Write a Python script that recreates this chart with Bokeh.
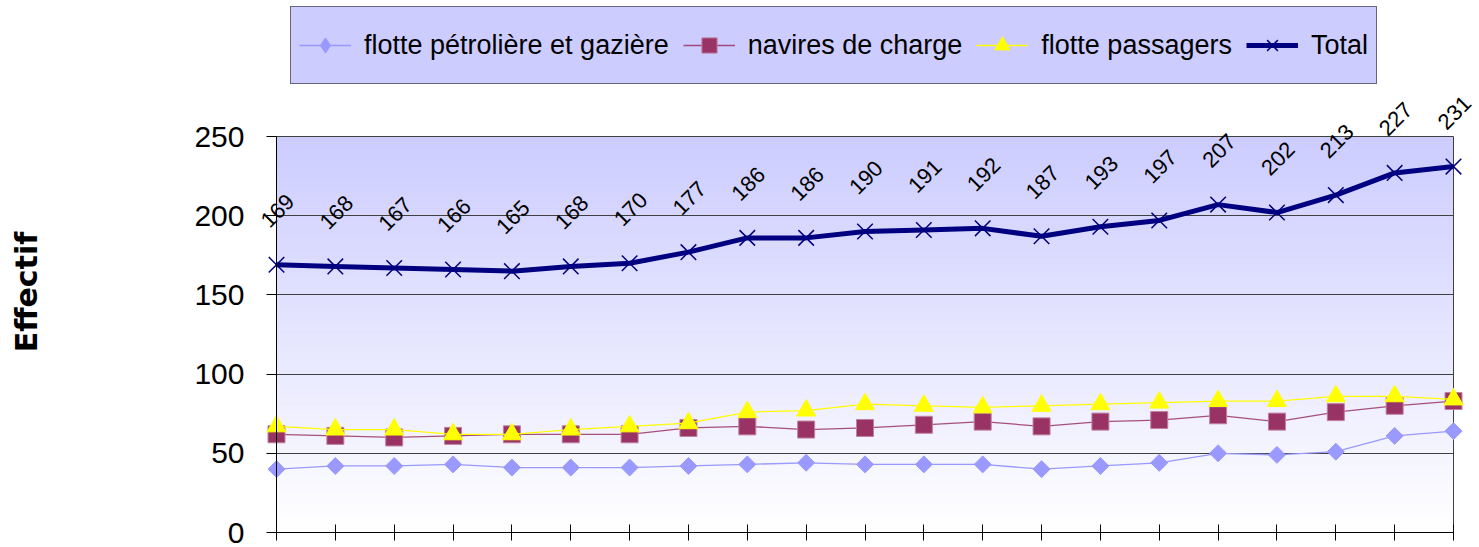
import numpy as np
from bokeh.plotting import figure
from bokeh.models import (ColumnDataSource, Legend, LegendItem, LabelSet, Label,
                          Range1d, FixedTicker, CDSView, IndexFilter)
from bokeh.core.properties import value
from bokeh.embed import file_html
from bokeh.resources import INLINE

# ---- data ----
idx = list(range(21))
petro = [40, 42, 42, 43, 41, 41, 41, 42, 43, 44, 43, 43, 43, 40, 42, 44, 50, 49, 51, 61, 64]
navires = [62, 61, 60, 61, 62, 62, 62, 66, 67, 65, 66, 68, 70, 67, 70, 71, 74, 70, 76, 80, 83]
passagers = [67, 65, 65, 62, 62, 65, 67, 69, 76, 77, 81, 80, 79, 80, 81, 82, 83, 83, 86, 86, 84]
total = [169, 168, 167, 166, 165, 168, 170, 177, 186, 186, 190, 191, 192, 187, 193, 197, 207, 202, 213, 227, 231]
y_ticks = [0, 50, 100, 150, 200, 250]
series_names = ["flotte pétrolière et gazière", "navires de charge", "flotte passagers", "Total"]
y_title = "Effectif"

FONT = "Liberation Sans"
W, H = 1479, 547
X0PX, X1PX = 276, 1453     # plot area left/right (px)
YTOP, YBOT = 136, 532      # plot area top/bottom (px)
xmax = len(idx) - 1
ymax = y_ticks[-1]
xs = (X1PX - X0PX) / xmax
ys = (YBOT - YTOP) / ymax

p = figure(width=W, height=H,
           x_range=Range1d(-X0PX / xs, (W - X0PX) / xs),
           y_range=Range1d(-(H - YBOT) / ys, YBOT / ys),
           output_backend="svg", toolbar_location=None,
           min_border_left=0, min_border_right=0,
           min_border_top=0, min_border_bottom=0)
p.background_fill_color = "white"
p.border_fill_color = "white"
p.outline_line_color = None

# gradient background of the plot area (lavender at top -> white at bottom)
nb = 125
edges = np.linspace(0, ymax, nb + 1)
fr = (edges[:-1] + edges[1:]) / 2 / ymax
cols = ['#%02x%02x%02x' % (int(round(255 - 51 * f)), int(round(255 - 51 * f)), 255) for f in fr]
g = p.quad(left=0, right=xmax, bottom=edges[:-1], top=edges[1:],
           fill_color=cols, line_color=cols, line_width=1)
g.level = "image"

# grid (top gridline = plot area top border, x grid at last index = right border)
p.ygrid.ticker = FixedTicker(ticks=y_ticks)
p.ygrid.cross_bounds = (0, xmax)
p.ygrid.grid_line_color = "#404040"
p.ygrid.grid_line_width = 1
p.xgrid.ticker = FixedTicker(ticks=[xmax])
p.xgrid.cross_bounds = (0, ymax)
p.xgrid.grid_line_color = "#404040"

# axes
p.yaxis.fixed_location = 0
p.yaxis.bounds = (0, ymax)
p.yaxis.ticker = FixedTicker(ticks=y_ticks)
p.yaxis.major_label_text_font = FONT
p.yaxis.major_label_text_font_size = "30px"
p.yaxis.major_label_text_color = "black"
p.yaxis.major_tick_out = 10
p.yaxis.major_tick_in = 0
p.yaxis.minor_tick_line_color = None
p.yaxis.axis_line_color = "black"
p.yaxis.major_tick_line_color = "black"
p.yaxis.major_label_standoff = 22

p.xaxis.fixed_location = 0
p.xaxis.bounds = (0, xmax)
p.xaxis.ticker = FixedTicker(ticks=idx)
p.xaxis.major_tick_in = 8
p.xaxis.major_tick_out = 8
p.xaxis.major_label_overrides = {i: "" for i in idx}
p.xaxis.minor_tick_line_color = None
p.xaxis.axis_line_color = "black"
p.xaxis.major_tick_line_color = "black"

src = ColumnDataSource(dict(x=idx, petro=petro, navires=navires, passagers=passagers,
                            total=total, lab=[str(v) for v in total]))

l1 = p.line('x', 'petro', source=src, line_color="#9999ff", line_width=1.3)
s1 = p.scatter('x', 'petro', source=src, marker="square", angle=np.pi / 4, size=12,
               fill_color="#9999ff", line_color="#9999ff")
# diamond used for the legend (legend does not rotate markers); its one drawn point
# lies entirely inside the first rotated-square marker, so it is invisible in the plot
s1_leg = p.scatter('x', 'petro', source=src, view=CDSView(filter=IndexFilter(indices=[0])),
                   marker="diamond", size=14, fill_color="#9999ff", line_color="#9999ff")

l2 = p.line('x', 'navires', source=src, line_color="#993366", line_width=1.3, line_alpha=0.85)
s2 = p.scatter('x', 'navires', source=src, marker="square", size=17,
               fill_color="#993366", line_color="#c080a0", line_width=1)

l3 = p.line('x', 'passagers', source=src, line_color="#ffff00", line_width=1.3)
s3 = p.scatter('x', 'passagers', source=src, marker="triangle", size=19,
               fill_color="#ffff00", line_color="#ffff00")

l4 = p.line('x', 'total', source=src, line_color="#000080", line_width=5)
s4 = p.scatter('x', 'total', source=src, marker="x", size=22,
               line_color="#000080", line_width=1.5)

labels = LabelSet(x='x', y='total', text='lab', source=src, angle=np.pi / 4,
                  text_align="center", text_baseline="middle", y_offset=54, x_offset=1,
                  text_font=value(FONT), text_font_size="22px", text_color="black")
p.add_layout(labels)

ytitle = Label(x=(25.5 - X0PX) / xs, y=(YBOT - 291.5) / ys, text=y_title, angle=np.pi / 2,
               text_align="center", text_baseline="middle",
               text_font="DejaVu Sans", text_font_style="bold", text_font_size="30px",
               text_color="black")
p.add_layout(ytitle)

legend = Legend(items=[LegendItem(label=series_names[0], renderers=[l1, s1_leg]),
                       LegendItem(label=series_names[1], renderers=[l2, s2]),
                       LegendItem(label=series_names[2], renderers=[l3, s3]),
                       LegendItem(label=series_names[3], renderers=[l4, s4])],
                orientation="horizontal", location=(290, H - 84),
                glyph_width=52, glyph_height=38, label_height=60,
                label_standoff=13, spacing=14, padding=8, margin=0,
                background_fill_color="#ccccff", background_fill_alpha=1,
                border_line_color="black", border_line_width=1,
                label_text_font=FONT, label_text_font_size="27px",
                label_text_color="black")
p.add_layout(legend)

open("out.html", "w").write(file_html(p, INLINE))
